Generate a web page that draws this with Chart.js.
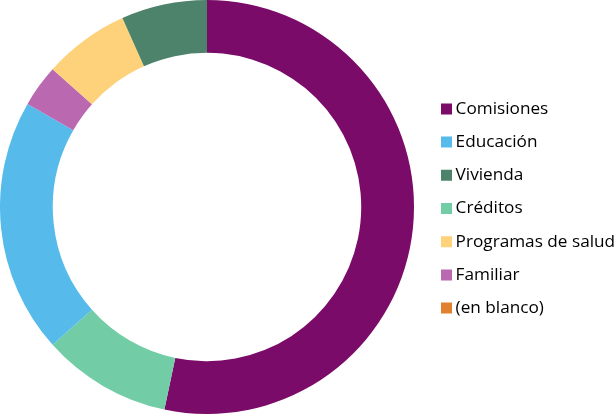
<!DOCTYPE html>
<html><head><meta charset="utf-8">
<script src="https://cdn.jsdelivr.net/npm/chart.js@4.4.1/dist/chart.umd.min.js"></script>
<style>html,body{margin:0;padding:0;background:#fff;overflow:hidden}#wrap{width:616px;height:414px;position:relative}</style>
</head><body><div id="wrap"><canvas id="c"></canvas></div>
<script>
// Data (drawing order, clockwise from 12 o'clock)
const categories = ['Comisiones', 'Créditos', 'Educación', 'Familiar', 'Programas de salud', 'Vivienda', '(en blanco)'];
const values = [53.3, 10.1, 19.9, 3.3, 6.7, 6.7, 0];
const colors = ['#7B0B68', '#72CCA6', '#56BBEB', '#BA69B0', '#FED27A', '#4E836B', '#E0812F'];
// Order of entries in the legend
const legendOrder = ['Comisiones', 'Educación', 'Vivienda', 'Créditos', 'Programas de salud', 'Familiar', '(en blanco)'];

const FONT_SIZE = 17.2;
const LEGEND_WIDTH = 202;
const LEGEND_SHIFT_X = 16;
const LEGEND_SHIFT_Y = 1.5;

const legendSizePlugin = {
  id: 'legendSize',
  beforeLayout(chart) {
    const lg = chart.legend;
    if (lg && !lg._patched) {
      const orig = lg.fit;
      lg.fit = function () { orig.call(this); this.width = LEGEND_WIDTH; };
      lg._patched = true;
    }
  },
  afterLayout(chart) {
    const lg = chart.legend;
    if (lg) {
      lg.left += LEGEND_SHIFT_X; lg.right += LEGEND_SHIFT_X;
      lg.top += LEGEND_SHIFT_Y; lg.bottom += LEGEND_SHIFT_Y;
    }
  }
};

new Chart(document.getElementById('c'), {
  type: 'doughnut',
  data: {
    labels: categories,
    datasets: [{
      data: values,
      backgroundColor: colors,
      borderWidth: 0,
      hoverOffset: 0
    }]
  },
  options: {
    responsive: true,
    maintainAspectRatio: false,
    animation: false,
    cutout: '74.5%',
    layout: { padding: 0 },
    plugins: {
      tooltip: { enabled: false },
      legend: {
        position: 'right',
        align: 'center',
        labels: {
          font: { family: "'Open Sans', sans-serif", size: FONT_SIZE },
          color: '#000000',
          boxWidth: 1,
          boxHeight: 1,
          padding: 16,
          generateLabels(chart) {
            const ds = chart.data.datasets[0];
            return chart.data.labels.map((l, i) => ({
              text: l,
              fillStyle: ds.backgroundColor[i],
              strokeStyle: ds.backgroundColor[i],
              lineWidth: 10,
              lineJoin: 'miter',
              hidden: false,
              index: i
            }));
          },
          sort(a, b) { return legendOrder.indexOf(a.text) - legendOrder.indexOf(b.text); }
        }
      }
    }
  },
  plugins: [legendSizePlugin]
});
</script>
</body></html>
